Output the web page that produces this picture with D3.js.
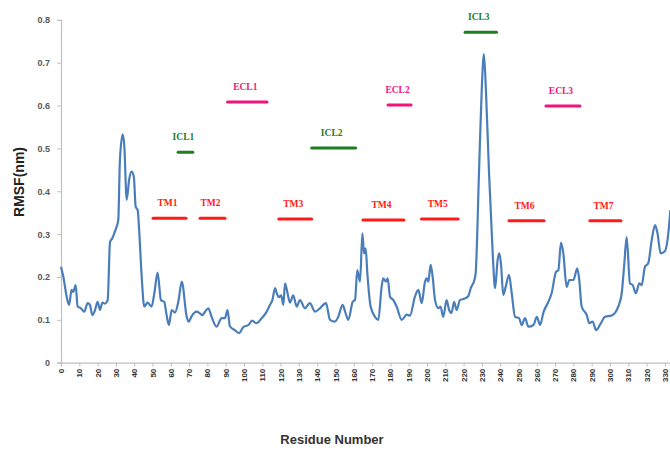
<!DOCTYPE html>
<html><head><meta charset="utf-8">
<script src="https://cdn.jsdelivr.net/npm/d3@7"></script>
<style>html,body{margin:0;padding:0;background:#fff;overflow:hidden}</style>
</head><body>
<svg id="chart" width="670" height="449"></svg>
<script>
const residues = [0,1.3,3.1,4.4,5.8,6.7,8,9.1,10.9,12.7,14.6,15.8,17.1,18.6,20,21.3,22.6,24,25.5,26.8,28,29.1,30.4,31.3,32.2,33.7,34.6,35.9,37.2,38.6,39.8,40.8,41.9,42.6,44.1,45.5,47.3,49.5,51,52.8,54.6,56.4,57.7,59,60.5,62.3,64.1,66,68.7,69.9,71.2,74.1,75.9,77.2,78.7,80.5,82.3,85,87.8,89.6,91,92.3,95,97.3,99.6,102.4,104.5,106.7,109.7,111.8,114.2,115.5,117,117.9,119.2,120.3,121.5,122.4,123.8,125.1,126.9,128.8,130.6,133.3,136,138.8,141.5,144.8,147,149.7,151.5,153.9,155.2,157,159.4,160.7,161.9,163.4,164.7,165.6,166.5,167.4,169.2,171.6,173.4,175.2,176.1,177.6,178.5,179.8,181.6,183.4,186.2,188.9,190.7,193.4,195.3,197.1,198.9,199.8,200.7,202,203.1,204.4,206.2,207.4,208.9,210.7,212.1,213.4,214.8,216.2,218,220.8,222.6,224,225.9,226.6,228.4,229.9,231.1,232.2,233.9,235.9,237.2,238.6,239.5,240.4,241.7,243,244.8,246.3,248.1,250.3,251.7,253.6,255.4,258.2,260,261.8,263.6,266.3,268.1,270.5,271.8,273.2,274.5,276.3,277.8,280,282.1,283.2,284.5,287.3,288.7,290.5,292.4,294.5,297.3,300.9,304.5,306.4,307.7,309.1,310.9,312.4,314.2,316,317.3,319.1,320.9,322.8,324.6,325.9,327.7,330,331.9,333];
const rmsf = [0.224,0.20,0.154,0.135,0.17,0.165,0.181,0.131,0.127,0.119,0.139,0.135,0.111,0.123,0.142,0.123,0.14,0.138,0.146,0.282,0.29,0.302,0.317,0.333,0.473,0.533,0.505,0.38,0.426,0.446,0.434,0.364,0.356,0.317,0.20,0.131,0.14,0.131,0.162,0.21,0.146,0.142,0.111,0.088,0.123,0.117,0.142,0.189,0.107,0.096,0.107,0.119,0.115,0.111,0.119,0.127,0.107,0.084,0.104,0.104,0.123,0.085,0.076,0.069,0.083,0.088,0.098,0.092,0.104,0.115,0.135,0.146,0.174,0.162,0.153,0.157,0.135,0.185,0.162,0.14,0.157,0.131,0.146,0.127,0.139,0.119,0.127,0.139,0.1,0.096,0.107,0.135,0.12,0.1,0.142,0.147,0.216,0.189,0.302,0.255,0.267,0.209,0.131,0.107,0.1,0.177,0.197,0.189,0.197,0.154,0.146,0.131,0.1,0.112,0.11,0.154,0.17,0.139,0.189,0.197,0.189,0.228,0.2,0.146,0.127,0.131,0.107,0.146,0.123,0.116,0.142,0.123,0.146,0.15,0.156,0.175,0.193,0.209,0.442,0.636,0.72,0.636,0.442,0.255,0.174,0.24,0.255,0.232,0.158,0.177,0.205,0.162,0.107,0.104,0.088,0.104,0.084,0.088,0.107,0.088,0.117,0.142,0.162,0.212,0.216,0.28,0.255,0.177,0.193,0.193,0.22,0.193,0.131,0.111,0.092,0.096,0.076,0.088,0.107,0.11,0.131,0.162,0.224,0.293,0.185,0.181,0.162,0.185,0.181,0.224,0.232,0.286,0.321,0.303,0.255,0.26,0.303,0.356];

const xTicks = d3.range(0, 331, 10);
const yTicks = [0,0.1,0.2,0.3,0.4,0.5,0.6,0.7,0.8];

const regionNames = ["TM1","TM2","ICL1","ECL1","TM3","ICL2","TM4","ECL2","TM5","ICL3","TM6","ECL3","TM7"];
const regionStart = [50.3,76,64,91,119,137,165,178.7,197,220.8,244.8,265,289];
const regionEnd   = [68.3,89.6,72,112.6,137,161,187.4,191.3,217,238,264,283.6,306];
const regionLevel = [0.337,0.337,0.491,0.608,0.335,0.501,0.333,0.601,0.335,0.771,0.331,0.599,0.331];
const regionType  = ["TM","TM","ICL","ECL","TM","ICL","TM","ECL","TM","ICL","TM","ECL","TM"];
const typeColor = {TM:"#ff1a1a", ICL:"#1e7d1e", ECL:"#f0147f"};

const svg = d3.select("#chart");
const x = d3.scaleLinear().domain([0, 340]).range([61, 683.2]);
const y = d3.scaleLinear().domain([0, 0.8]).range([362.7, 19.8]);

// axes
const axisColor = "#c0c0c0";
const yAxis = svg.append("g").attr("transform","translate(61,0)")
  .call(d3.axisLeft(y).tickValues(yTicks).tickSize(4).tickPadding(7)
        .tickFormat(d => d === 0 ? "0" : d3.format(".1f")(d)));
yAxis.select(".domain").attr("stroke", axisColor).attr("stroke-width",1.2);
yAxis.selectAll(".tick line").attr("stroke", axisColor);
yAxis.selectAll(".tick text").attr("font-family","Liberation Sans, Arial, sans-serif")
  .attr("font-size","9px").attr("font-weight","bold").attr("fill","#595959");

const xAxis = svg.append("g").attr("transform","translate(0,362.7)")
  .call(d3.axisBottom(x).tickValues(xTicks).tickSize(4).tickFormat(d3.format("d")));
xAxis.select(".domain").attr("stroke", axisColor).attr("stroke-width",1.2);
xAxis.selectAll(".tick line").attr("stroke", axisColor);
xAxis.selectAll(".tick text")
  .attr("font-family","Liberation Sans, Arial, sans-serif")
  .attr("font-size","8px").attr("font-weight","bold").attr("fill","#333")
  .attr("text-anchor","end").attr("dy","0.32em")
  .attr("transform","translate(0,6) rotate(-90)")
  .attr("x",0).attr("y",0);

// line
const line = d3.line().x((d,i)=>x(residues[i])).y(d=>y(d)).curve(d3.curveMonotoneX);
svg.append("path").datum(rmsf).attr("d", line)
  .attr("fill","none").attr("stroke","#4a7ebb").attr("stroke-width",2.2)
  .attr("stroke-linejoin","round");

// region markers
const regions = regionNames.map((n,i)=>({name:n,s:regionStart[i],e:regionEnd[i],v:regionLevel[i],t:regionType[i]}));
const rg = svg.append("g");
rg.selectAll("line").data(regions).join("line")
  .attr("x1",d=>x(d.s)).attr("x2",d=>x(d.e))
  .attr("y1",d=>y(d.v)).attr("y2",d=>y(d.v))
  .attr("stroke",d=>typeColor[d.t]).attr("stroke-width",3).attr("stroke-linecap","round");
rg.selectAll("text").data(regions).join("text")
  .attr("x",d=>(x(d.s)+x(d.e))/2 - 2).attr("y",d=>y(d.v)-12)
  .attr("text-anchor","middle")
  .attr("font-family","Liberation Serif, 'Times New Roman', serif")
  .attr("font-weight","bold").attr("font-size","9.5px")
  .attr("fill",d=>typeColor[d.t]).text(d=>d.name);

// axis titles
svg.append("text").attr("transform","translate(24,182) rotate(-90)")
  .attr("text-anchor","middle").attr("font-family","Liberation Sans, Arial, sans-serif")
  .attr("font-weight","bold").attr("font-size","14px").attr("fill","#222").text("RMSF(nm)");
svg.append("text").attr("x",332).attr("y",444)
  .attr("text-anchor","middle").attr("font-family","Liberation Sans, Arial, sans-serif")
  .attr("font-weight","bold").attr("font-size","13px").attr("fill","#333").text("Residue Number");
</script>
</body></html>
